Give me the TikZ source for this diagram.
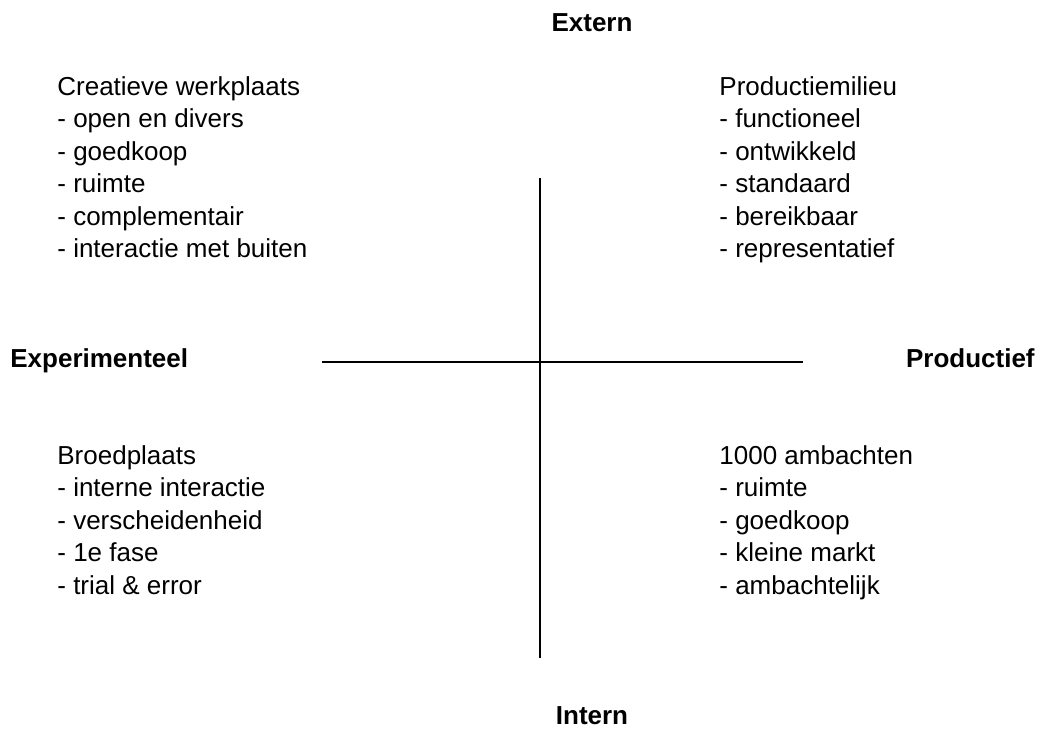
\documentclass[tikz,border=0pt]{standalone}
\usepackage{fontspec}
\setmainfont{Liberation Sans}
\usepackage{tikz}

\begin{document}
\begin{tikzpicture}[x=0.5pt, y=-0.5pt, lbl/.style={inner sep=0pt, font=\fontsize{13}{16}\selectfont\bfseries}, item/.style={anchor=base west, inner sep=0pt, font=\fontsize{13}{16}\selectfont}, axis/.style={line width=1pt}, vaxis/.style={line width=0.75pt}]
            \useasboundingbox (0,0) rectangle (1042,728);
            % axis labels
            \node[lbl, anchor=base] (ext) at (592,31) {Extern};
            \node[lbl, anchor=base] (int) at (592,724) {Intern};
            \node[lbl, anchor=base west] (exper) at (10,367) {Experimenteel};
            \node[lbl, anchor=base east] (prod) at (1035,367) {Productief};

            % axes
            \coordinate (west) at (322,362);
            \coordinate (east) at (803,362);
            \coordinate (north) at (540,178);
            \coordinate (south) at (540,658);
            \draw[axis] (west) -- (east);
            \draw[vaxis] (north) -- (south);

            % quadrants
            \foreach \t [count=\i from 0] in {Creatieve werkplaats, - open en divers, - goedkoop, - ruimte, - complementair, - interactie met buiten}
                \node[item] (cw\i) at (57,{95+32.5*\i}) {\t};
            \foreach \t [count=\i from 0] in {Productiemilieu, - functioneel, - ontwikkeld, - standaard, - bereikbaar, - representatief}
                \node[item] (pm\i) at (719,{95+32.5*\i}) {\t};
            \foreach \t [count=\i from 0] in {Broedplaats, - interne interactie, - verscheidenheid, - 1e fase, - trial \& error}
                \node[item] (bp\i) at (57,{464+32.5*\i}) {\t};
            \foreach \t [count=\i from 0] in {1000 ambachten, - ruimte, - goedkoop, - kleine markt, - ambachtelijk}
                \node[item] (am\i) at (719,{464+32.5*\i}) {\t};
        \end{tikzpicture}
\end{document}
